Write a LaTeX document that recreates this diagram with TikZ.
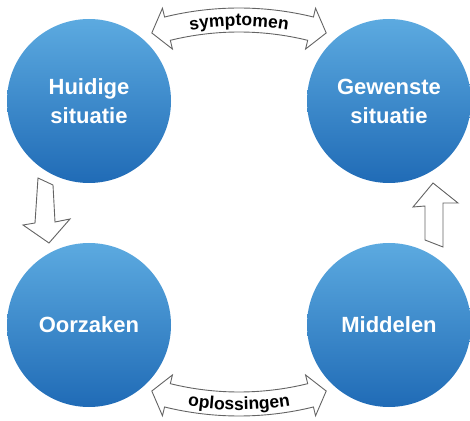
\documentclass[tikz,border=0pt]{standalone}
\usepackage{fontspec}
\setmainfont{Liberation Sans}
\usetikzlibrary{decorations.text}
\definecolor{discTop}{RGB}{92,170,224}
\definecolor{discBottom}{RGB}{32,107,182}
\definecolor{outline}{RGB}{100,100,100}
\newcommand\arrowlabelfont{\fontsize{17.5}{17.5}\selectfont\bfseries}
\tikzset{
  disc/.style={circle, minimum size=164pt, inner sep=0pt,
    top color=discTop, bottom color=discBottom, draw=none,
    text=white, font=\fontsize{22}{29}\selectfont\bfseries, align=center},
  blockarrow/.style={draw=outline, fill=white, line width=0.9pt, line join=miter},
}
\begin{document}
\begin{tikzpicture}[x=1pt,y=1pt]
\useasboundingbox (0,0) rectangle (470,420);

% the four stages
\node[disc] (huidig)  at (89,319)  {Huidige\\situatie};
\node[disc] (gewenst) at (389,319) {Gewenste\\situatie};
\node[disc] (oorzaak) at (89,95)   {Oorzaken};
\node[disc] (middel)  at (389,95)  {Middelen};

% curved double arrow between the upper circles
\begin{scope}[shift={(239,100)}]
  \draw[blockarrow] (106.9:300) -- (103.8:321) -- (103.8:312)
    arc[start angle=103.8, end angle=76.2, radius=312]
    -- (76.2:321) -- (73.1:300) -- (76.2:279) -- (76.2:288)
    arc[start angle=76.2, end angle=103.8, radius=288]
    -- (103.8:279) -- cycle;
  \path[decorate, decoration={text along path, text align=center,
      text={|\arrowlabelfont|symptomen}}]
    (108:294) arc[start angle=108, end angle=72, radius=294];
\end{scope}

% curved double arrow between the lower circles
\begin{scope}[shift={(239,316)}]
  \draw[blockarrow] (-106.9:300) -- (-103.8:279) -- (-103.8:288)
    arc[start angle=-103.8, end angle=-76.2, radius=288]
    -- (-76.2:279) -- (-73.1:300) -- (-76.2:321) -- (-76.2:312)
    arc[start angle=-76.2, end angle=-103.8, radius=312]
    -- (-103.8:321) -- cycle;
  \path[decorate, decoration={text along path, text align=center,
      text={|\arrowlabelfont|oplossingen}}]
    (-108:306) arc[start angle=-108, end angle=-72, radius=306];
\end{scope}

% downward arrow on the left
\draw[blockarrow] (38,242) -- (53,235) -- (55,198) -- (70,201) -- (49,177)
  -- (23,195) -- (35,197) -- cycle;

% upward arrow on the right
\draw[blockarrow] (433,237) -- (458,217) -- (443,217) -- (443,173)
  -- (425,180) -- (425,214) -- (413,213) -- cycle;
\end{tikzpicture}
\end{document}
